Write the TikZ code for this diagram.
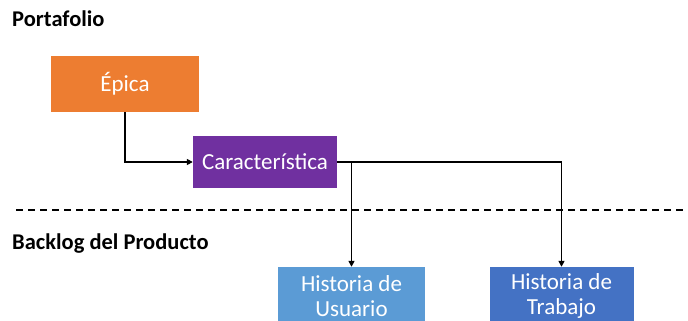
\documentclass[tikz,border=0pt]{standalone}
\usepackage{fontspec}
\setmainfont{Carlito}
\usetikzlibrary{arrows.meta}
\definecolor{epicor}{HTML}{ED7D31}
\definecolor{featpur}{HTML}{7030A0}
\definecolor{usblue}{HTML}{5B9BD5}
\definecolor{wkblue}{HTML}{4472C4}
\begin{document}
\begin{tikzpicture}[x=1pt,y=-1pt,
  box/.style={draw=none,inner sep=0pt,text=white,font=\fontsize{23}{25}\selectfont,align=center},
  conn/.style={line width=1.6pt,-{Triangle[length=6pt,width=6pt]}},
  heading/.style={font=\bfseries\fontsize{22.5}{26}\selectfont,anchor=west,inner sep=0pt}]
\useasboundingbox (0,0) rectangle (688,321);
\clip (0,0) rectangle (688,321);
\fill[white] (0,0) rectangle (688,321);
\node[heading] (port) at (12,19) {Portafolio};
\node[heading] (back) at (12,244) {Backlog del Producto};
\node[box,fill=epicor,minimum width=148pt,minimum height=56pt] (epica) at (125,84) {Épica};
\node[box,fill=featpur,minimum width=144pt,minimum height=52pt] (feat) at (265,162) {Característica};
\node[box,fill=usblue,minimum width=147pt,minimum height=58pt] (hu) at (351.5,296) {Historia de\\Usuario};
\node[box,fill=wkblue,minimum width=144pt,minimum height=58pt] (ht) at (561.5,296) {Historia de\\Trabajo};
\coordinate (dl) at (16,210);
\coordinate (dr) at (688,210);
\draw[line width=1.5pt,dash pattern=on 7pt off 5pt] (dl) -- (dr);
\draw[conn] (epica.south) |- (feat.west);
\draw[conn] (feat.east) -| (ht.north);
\draw[conn] (feat.east -| hu.north) -- (hu.north);
\end{tikzpicture}
\end{document}
